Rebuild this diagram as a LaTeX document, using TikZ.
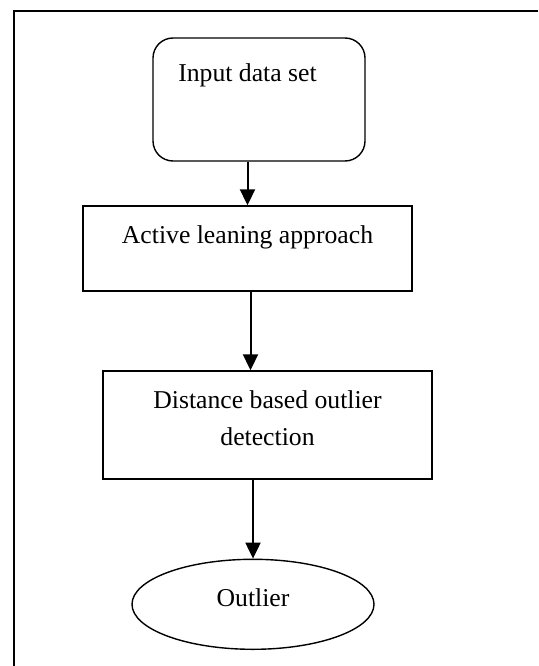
\documentclass[tikz,border=0pt]{standalone}
\usepackage{fontspec}
\setmainfont{Liberation Serif}
\usetikzlibrary{arrows.meta,shapes.geometric}
\begin{document}
\begin{tikzpicture}[x=1pt,y=-1pt,
  boxline/.style={draw=black,line width=1.4pt,inner sep=0pt},
  lbl/.style={anchor=base,inner sep=0pt,font=\fontsize{25.7}{37}\selectfont},
  arr/.style={line width=2pt,-{Triangle[length=16pt,width=15pt]}}]
\useasboundingbox (0,0) rectangle (538,666);
% frame (cropped: top and left edges only)
\coordinate (frTL) at (14,11);
\coordinate (frTR) at (538,11);
\coordinate (frBL) at (14,666);
\draw[line width=1.5pt] (frBL) -- (frTL) -- (frTR);
% shapes
\node[boxline,rounded corners=20pt,minimum width=212pt,minimum height=123pt] (inbox) at (259,99.5) {};
\node[boxline,minimum width=329pt,minimum height=85pt] (act) at (247.5,248.5) {};
\node[boxline,minimum width=329pt,minimum height=108pt] (dist) at (267.5,425) {};
\node[boxline,ellipse,minimum width=242pt,minimum height=90pt] (oval) at (253,604.3) {};
% texts
\node[lbl] (tin) at (247.5,82) {Input data set};
\node[lbl] (tact) at (247.5,243) {Active leaning approach};
\node[lbl] (tdist1) at (267.5,408) {Distance based outlier};
\node[lbl] (tdist2) at (267.5,445) {detection};
\node[lbl] (tout) at (253,606.7) {Outlier};
% connectors
\draw[arr] (inbox.south -| act.north) -- (act.north);
\draw[arr] ([xshift=3pt]act.south) -- ([xshift=3pt]act.south |- dist.north);
\draw[arr] (dist.south -| oval.north) -- (oval.north);
\end{tikzpicture}
\end{document}
